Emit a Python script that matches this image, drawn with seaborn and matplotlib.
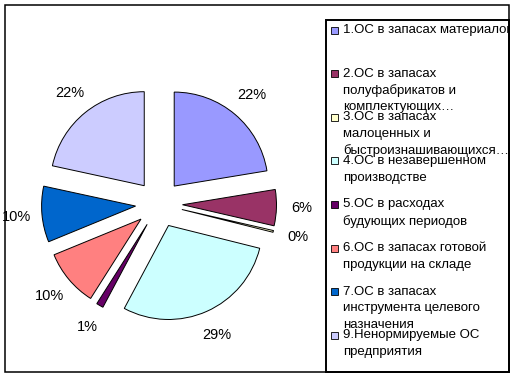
import matplotlib
matplotlib.use("Agg")
import matplotlib.pyplot as plt
from matplotlib.patches import Rectangle
import seaborn as sns

# slice shares, %, clockwise from 12 o'clock
shares = [22.4, 6.2, 0.3, 28.9, 1.2, 9.8, 9.6, 21.6]
colors = ["#9999FF", "#993366", "#FFFFCC", "#CCFFFF",
          "#660066", "#FF8080", "#0066CC", "#CCCCFF"]
labels = [
    "1.ОС в запасах материалов",
    "2.ОС в запасах\nполуфабрикатов и\nкомплектующих…",
    "3.ОС в запасах\nмалоценных и\nбыстроизнашивающихся…",
    "4.ОС в незавершенном\nпроизводстве",
    "5.ОС в расходах\nбудующих периодов",
    "6.ОС в запасах готовой\nпродукции на складе",
    "7.ОС в запасах\nинструмента целевого\nназначения",
    "9.Ненормируемые ОС\nпредприятия",
]

sns.set_style("white")
plt.rcParams['font.family'] = ['Liberation Sans', 'DejaVu Sans']

W, H = 516, 378
fig = plt.figure(figsize=(W / 100, H / 100), dpi=100)

# pie axes: centre at (159, 204) px, radius 94 px
r = 94.0
cx, cy = 159.0, 204.0
ax = fig.add_axes([0, 0, 318 / W, 1])
wedges, texts, autotexts = ax.pie(
    shares, colors=colors, startangle=90, counterclock=False,
    explode=[0.25] * len(shares), autopct='%.0f%%', pctdistance=1.27,
    wedgeprops=dict(edgecolor='black', linewidth=0.7),
    textprops=dict(fontsize=10.5, color='black'))
ax.set_aspect('auto')
ax.set_xlim(-cx / r, (318 - cx) / r)
ax.set_ylim(-(H - cy) / r, cy / r)
ax.axis('off')

# outer frame
fig.patches.append(Rectangle((5 / W, 6 / H), 504 / W, 367 / H, transform=fig.transFigure,
                             fill=False, edgecolor='black', linewidth=1.1))

# legend box
leg_box = Rectangle((326 / W, 6 / H), 183 / W, 352 / H, transform=fig.transFigure,
                    fill=False, edgecolor='black', linewidth=1.4)
fig.patches.append(leg_box)

y0, step, lsp = 30.0, 43.6, 16.8
for i, (lab, col) in enumerate(zip(labels, colors)):
    ye = y0 + i * step
    fig.patches.append(Rectangle((331 / W, (H - ye - 3.5) / H), 7 / W, 7 / H,
                                 transform=fig.transFigure, facecolor=col,
                                 edgecolor='black', linewidth=0.6))
    for k, line in enumerate(lab.split("\n")):
        t = fig.text(343 / W, (H - ye - k * lsp) / H, line, fontsize=9.5,
                     va='center', ha='left', color='black')
        t.set_clip_path(leg_box)

fig.savefig("out.png", dpi=100)
